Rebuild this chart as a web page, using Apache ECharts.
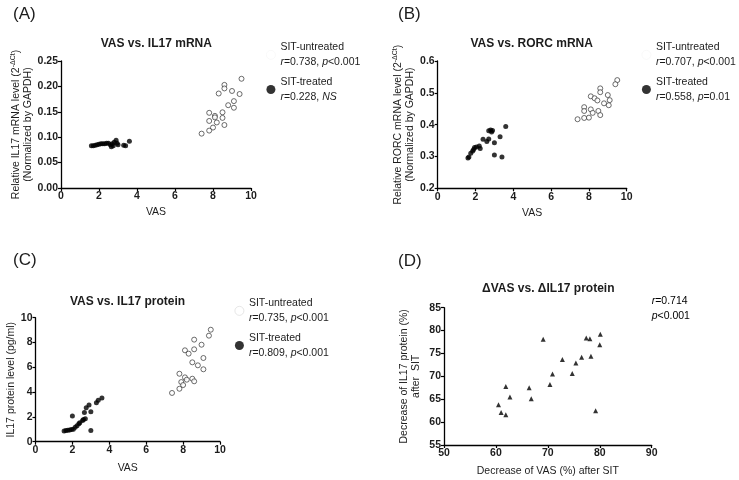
<!DOCTYPE html>
<html>
<head>
<meta charset="utf-8">
<script src="https://cdn.jsdelivr.net/npm/echarts@6/dist/echarts.min.js"></script>
<style>html,body{margin:0;padding:0;background:#fff;}#c{width:739px;height:480px;}</style>
</head>
<body>
<div id="c"></div>
<script>
// ---- Data (VAS, value) ----
const aUntreated = [[9.5,0.215],[8.6,0.203],[8.6,0.196],[8.3,0.186],[9.0,0.191],[9.4,0.185],[9.1,0.171],[8.8,0.163],[9.1,0.158],[7.8,0.148],[8.5,0.149],[8.1,0.142],[8.1,0.139],[7.8,0.132],[8.5,0.138],[8.2,0.129],[8.6,0.124],[8.0,0.119],[7.8,0.113],[7.4,0.107]];
const aTreated = [[1.6,0.083],[1.7,0.083],[1.8,0.084],[1.9,0.085],[2.0,0.086],[2.1,0.087],[2.2,0.087],[2.3,0.087],[2.4,0.088],[2.5,0.088],[2.6,0.085],[2.65,0.081],[2.7,0.087],[2.75,0.083],[2.8,0.09],[2.9,0.094],[2.95,0.088],[3.0,0.085],[3.3,0.084],[3.4,0.083],[3.6,0.092]];
const bUntreated = [[9.5,0.54],[9.4,0.527],[8.6,0.514],[8.6,0.502],[9.0,0.493],[8.1,0.489],[8.3,0.483],[8.45,0.476],[9.1,0.477],[8.8,0.467],[9.05,0.461],[7.75,0.455],[7.75,0.443],[8.1,0.448],[8.5,0.443],[8.2,0.437],[8.6,0.43],[8.0,0.422],[7.75,0.421],[7.4,0.417]];
const bTreated = [[1.6,0.295],[1.65,0.298],[1.75,0.31],[1.85,0.317],[1.9,0.322],[1.95,0.328],[2.05,0.33],[2.2,0.333],[2.25,0.325],[2.4,0.354],[2.6,0.347],[2.7,0.355],[2.7,0.381],[2.8,0.383],[2.85,0.377],[2.9,0.382],[3.0,0.343],[3.3,0.362],[3.6,0.394],[3.0,0.305],[3.4,0.298]];
const cUntreated = [[9.5,9.03],[9.4,8.55],[8.6,8.23],[9.0,7.82],[8.1,7.37],[8.3,7.1],[8.6,7.45],[9.1,6.75],[8.5,6.4],[8.8,6.16],[9.1,5.84],[7.8,5.48],[8.1,5.19],[8.2,5.0],[7.9,4.81],[8.5,5.08],[8.6,4.87],[8.0,4.57],[7.8,4.27],[7.4,3.93]];
const cTreated = [[1.55,0.87],[1.65,0.9],[1.75,0.92],[1.85,0.95],[1.95,0.98],[2.05,1.0],[2.0,2.07],[2.15,1.17],[2.25,1.28],[2.35,1.44],[2.4,1.52],[2.55,1.71],[2.6,1.79],[2.7,1.85],[2.65,2.36],[2.75,2.74],[2.9,2.96],[3.0,2.42],[3.0,0.9],[3.3,3.15],[3.4,3.34],[3.6,3.53]];
// Decrease of VAS (%) vs decrease of IL17 protein (%)
const dPoints = [[69.1,78.1],[77.4,78.4],[78.1,78.2],[80.1,79.2],[80.0,76.9],[72.8,73.7],[76.5,74.2],[78.3,74.4],[75.4,72.9],[70.9,70.5],[74.7,70.6],[70.4,68.2],[61.9,67.8],[66.4,67.5],[62.7,65.5],[66.8,65.1],[60.5,63.8],[61.0,62.1],[61.9,61.6],[79.2,62.5]];

const panelLabels = ['(A)','(B)','(C)','(D)'];
const panelTitles = ['VAS vs. IL17 mRNA','VAS vs. RORC mRNA','VAS vs. IL17 protein','\u0394VAS vs. \u0394IL17 protein'];
const legendStats = {
  A: {u: ['0.738','p','<0.001'], t: ['0.228','NS','']},
  B: {u: ['0.707','p','<0.001'], t: ['0.558','p','=0.01']},
  C: {u: ['0.735','p','<0.001'], t: ['0.809','p','<0.001']}
};

const FONT = '"Liberation Sans", Arial, sans-serif';
const TXT = '#1c1c1c';

const grids = [
  {left: 61, top: 61, width: 190, height: 127},
  {left: 437.7, top: 61, width: 189, height: 127.3},
  {left: 35.5, top: 317.7, width: 184.5, height: 124},
  {left: 444, top: 307.7, width: 207.7, height: 137.3}
];

function xAx(i, min, max, interval, name, gap) {
  return {
    gridIndex: i, type: 'value', min, max, interval,
    name, nameLocation: 'middle', nameGap: gap,
    nameTextStyle: {fontFamily: FONT, fontSize: 10.5, color: TXT},
    axisLine: {show: true, lineStyle: {color: '#000', width: 1.3}},
    axisTick: {show: true, length: 3, lineStyle: {color: '#000', width: 1.2}},
    axisLabel: {fontFamily: FONT, fontSize: 10.5, fontWeight: 'bold', color: TXT, margin: 3},
    splitLine: {show: false}
  };
}
function yAx(i, min, max, interval, name, gap, fmt, rich) {
  return {
    gridIndex: i, type: 'value', min, max, interval,
    name, nameLocation: 'middle', nameGap: gap,
    nameTextStyle: {fontFamily: FONT, fontSize: 10.5, color: TXT, lineHeight: 12, rich: rich || {}},
    axisLine: {show: true, lineStyle: {color: '#000', width: 1.3}},
    axisTick: {show: true, length: 3, lineStyle: {color: '#000', width: 1.2}},
    axisLabel: {fontFamily: FONT, fontSize: 10.5, fontWeight: 'bold', color: TXT, margin: 3, formatter: fmt},
    splitLine: {show: false}
  };
}
const supRich = {
  t: {fontFamily: FONT, fontSize: 10.5, color: TXT, lineHeight: 12},
  s: {fontFamily: FONT, fontSize: 7, color: TXT, lineHeight: 12, verticalAlign: 'top', padding: [0,0,5,0]}
};

function openSeries(name, data, xi) {
  return {type: 'scatter', name, xAxisIndex: xi, yAxisIndex: xi, data, symbol: 'circle', symbolSize: 5,
    itemStyle: {color: '#fff', borderColor: '#333', borderWidth: 0.9}, emphasis: {disabled: true}};
}
function fillSeries(name, data, xi) {
  return {type: 'scatter', name, xAxisIndex: xi, yAxisIndex: xi, data, symbol: 'circle', symbolSize: 5,
    itemStyle: {color: '#000'}, emphasis: {disabled: true}};
}

const legRich = {
  a: {fontFamily: FONT, fontSize: 10.5, color: TXT, lineHeight: 14.7},
  i: {fontFamily: FONT, fontSize: 10.5, color: TXT, fontStyle: 'italic', lineHeight: 14.7}
};
function legendFor(key, left, top, uIconColor) {
  const s = legendStats[key];
  return {
    orient: 'vertical', left, top, padding: 0, itemGap: 9, itemWidth: 9, itemHeight: 9,
    selectedMode: false,
    data: [
      {name: key + '-u', icon: 'circle', itemStyle: {color: '#fff', borderColor: uIconColor, borderWidth: 0.8}},
      {name: key + '-t', icon: 'circle', itemStyle: {color: '#000', borderWidth: 0}}
    ],
    formatter: function (n) {
      const v = n.endsWith('-u') ? s.u : s.t;
      const head = n.endsWith('-u') ? 'SIT-untreated' : 'SIT-treated';
      let line2 = '{i|r}{a|=' + v[0] + ', }';
      if (v[1] === 'NS') line2 += '{i|NS}';
      else line2 += '{i|' + v[1] + '}{a|' + v[2] + '}';
      return '{a|' + head + '}\n' + line2;
    },
    textStyle: {rich: legRich}
  };
}

const graphics = [];
const labelPos = [[13, 14], [398, 14], [13, 260], [398, 261.5]];
panelLabels.forEach((t, k) => graphics.push({type: 'text', x: labelPos[k][0], y: labelPos[k][1],
  style: {text: t, font: '17px ' + FONT, fill: TXT, align: 'left', verticalAlign: 'middle'}}));
const titlePos = [[156.3, 43.3], [531.7, 43.3], [127.5, 301.7], [548.3, 289]];
panelTitles.forEach((t, k) => graphics.push({type: 'text', x: titlePos[k][0], y: titlePos[k][1],
  style: {text: t, font: 'bold 12px ' + FONT, fill: TXT, align: 'center', verticalAlign: 'middle'}}));
graphics.push({type: 'text', x: 651.7, y: 308.5, style: {
  text: '{i|r}{a|=0.714}\n{i|p}{a|<0.001}', rich: legRich, align: 'left', verticalAlign: 'middle'}});

const option = {
  backgroundColor: '#fff',
  animation: false,
  grid: grids,
  xAxis: [
    xAx(0, 0, 10, 2, 'VAS', 19),
    xAx(1, 0, 10, 2, 'VAS', 19),
    xAx(2, 0, 10, 2, 'VAS', 21),
    xAx(3, 50, 90, 10, 'Decrease of VAS (%) after SIT', 21)
  ],
  yAxis: [
    yAx(0, 0, 0.25, 0.05, '{t|Relative IL17 mRNA level (2}{s|-\u0394Ct}{t|)}\n{t|(Normalized by GAPDH)}', 19, v => v.toFixed(2), supRich),
    yAx(1, 0.2, 0.6, 0.1, '{t|Relative RORC mRNA level (2}{s|-\u0394Ct}{t|)}\n{t|(Normalized by GAPDH)}', 22, v => v.toFixed(1), supRich),
    yAx(2, 0, 10, 2, 'IL17 protein level (pg/ml)', 18, v => String(v)),
    yAx(3, 55, 85, 5, 'Decrease of IL17 protein (%)\nafter  SIT', 22, v => String(v))
  ],
  legend: [
    legendFor('A', 266, 42, '#f6f6f6'),
    legendFor('B', 641.5, 42, '#f6f6f6'),
    legendFor('C', 234.5, 298, '#d8d8d8')
  ],
  graphic: graphics,
  series: [
    openSeries('A-u', aUntreated, 0),
    fillSeries('A-t', aTreated, 0),
    openSeries('B-u', bUntreated, 1),
    fillSeries('B-t', bTreated, 1),
    openSeries('C-u', cUntreated, 2),
    fillSeries('C-t', cTreated, 2),
    {type: 'scatter', name: 'D', xAxisIndex: 3, yAxisIndex: 3, data: dPoints, symbol: 'triangle', symbolSize: 5,
      itemStyle: {color: '#000'}, emphasis: {disabled: true}}
  ]
};
const chart = echarts.init(document.getElementById('c'), null, {renderer: 'canvas'});
chart.setOption(option);
</script>
</body>
</html>
